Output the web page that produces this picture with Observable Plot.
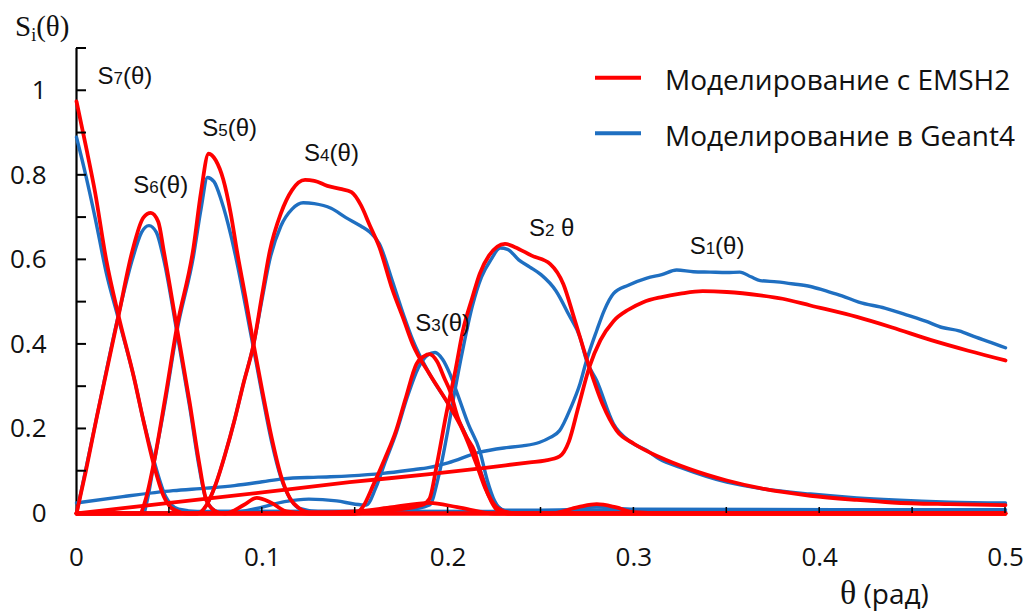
<!DOCTYPE html>
<html>
<head>
<meta charset="utf-8">
<script src="https://cdn.jsdelivr.net/npm/d3@7"></script>
<script src="https://cdn.jsdelivr.net/npm/@observablehq/plot@0.6"></script>
<style>
  html, body { margin: 0; padding: 0; background: #fff; }
  #chart svg { display: block; }
</style>
</head>
<body>
<div id="chart"></div>
<script>
// ---- Data: [theta (rad), S(theta)] ----
// EMSH2 (red)
const emsh2_S7 = [[0,0.975],[0.005,0.87],[0.01,0.76],[0.016,0.6],[0.0226,0.468],[0.031,0.32],[0.036,0.22],[0.0415,0.117],[0.047,0.04],[0.052,0.01],[0.06,0],[0.5,0]];
const emsh2_S6 = [[0,0],[0.005,0.1],[0.011,0.23],[0.0226,0.468],[0.03,0.62],[0.036,0.70],[0.04,0.711],[0.044,0.69],[0.047,0.62],[0.054,0.44],[0.061,0.26],[0.066,0.12],[0.07,0.03],[0.075,0.005],[0.08,0],[0.5,0]];
const emsh2_S5 = [[0,0],[0.034,0],[0.037,0.03],[0.0415,0.117],[0.048,0.28],[0.054,0.44],[0.063,0.63],[0.067,0.76],[0.0711,0.851],[0.075,0.835],[0.079,0.79],[0.083,0.71],[0.0864,0.62],[0.091,0.51],[0.0953,0.40],[0.1,0.29],[0.105,0.18],[0.11,0.09],[0.115,0.035],[0.12,0.012],[0.125,0.003],[0.15,0.005],[0.17,0.015],[0.19,0.025],[0.205,0.015],[0.225,0],[0.5,0]];
const emsh2_S4 = [[0,0],[0.065,0],[0.07,0.02],[0.075,0.07],[0.08,0.14],[0.085,0.22],[0.09,0.31],[0.0953,0.40],[0.1,0.52],[0.104,0.62],[0.11,0.71],[0.116,0.765],[0.123,0.789],[0.128,0.787],[0.135,0.775],[0.142,0.768],[0.148,0.76],[0.153,0.73],[0.158,0.68],[0.163,0.63],[0.17,0.53],[0.176,0.46],[0.181,0.40],[0.19,0.33],[0.2,0.26],[0.208,0.196],[0.215,0.12],[0.22,0.06],[0.226,0.015],[0.232,0.003],[0.24,0],[0.255,0],[0.27,0.015],[0.28,0.022],[0.29,0.015],[0.3,0.003],[0.32,0],[0.5,0]];
const emsh2_S3 = [[0,0],[0.08,0],[0.09,0.02],[0.097,0.037],[0.105,0.025],[0.113,0.005],[0.125,0],[0.15,0],[0.154,0.015],[0.16,0.07],[0.166,0.13],[0.172,0.196],[0.177,0.27],[0.183,0.354],[0.187,0.372],[0.19,0.377],[0.194,0.36],[0.198,0.32],[0.201,0.29],[0.205,0.23],[0.21,0.18],[0.214,0.149],[0.218,0.09],[0.222,0.04],[0.226,0.01],[0.232,0],[0.5,0]];
const emsh2_S2 = [[0,0],[0.15,0],[0.17,0.008],[0.186,0.02],[0.19,0.035],[0.194,0.117],[0.199,0.235],[0.204,0.34],[0.208,0.433],[0.213,0.51],[0.217,0.567],[0.222,0.61],[0.2306,0.638],[0.236,0.63],[0.245,0.61],[0.255,0.59],[0.262,0.543],[0.268,0.46],[0.276,0.346],[0.283,0.26],[0.2907,0.196],[0.3,0.165],[0.314,0.133],[0.33,0.105],[0.35,0.078],[0.37,0.058],[0.395,0.042],[0.42,0.032],[0.439,0.026],[0.47,0.022],[0.5,0.02]];
const emsh2_S1 = [[0,0],[0.05,0.025],[0.1,0.05],[0.147,0.074],[0.19,0.093],[0.22,0.108],[0.244,0.121],[0.252,0.125],[0.26,0.135],[0.265,0.17],[0.27,0.25],[0.276,0.346],[0.282,0.41],[0.289,0.455],[0.297,0.482],[0.305,0.5],[0.315,0.512],[0.325,0.52],[0.337,0.526],[0.35,0.524],[0.368,0.516],[0.38,0.508],[0.395,0.492],[0.42,0.465],[0.439,0.44],[0.46,0.41],[0.48,0.385],[0.5,0.362]];

// Geant4 (blue)
const geant4_S7 = [[0,0.89],[0.005,0.8],[0.01,0.7],[0.016,0.57],[0.0226,0.46],[0.031,0.32],[0.036,0.22],[0.042,0.12],[0.048,0.04],[0.055,0.01],[0.065,0.005],[0.5,0.003]];
const geant4_S6 = [[0,0],[0.011,0.23],[0.0226,0.47],[0.03,0.6],[0.035,0.665],[0.039,0.681],[0.043,0.665],[0.047,0.6],[0.054,0.43],[0.061,0.25],[0.066,0.11],[0.07,0.03],[0.076,0.005],[0.5,0.004]];
const geant4_S5 = [[0,0],[0.036,0],[0.038,0.03],[0.0416,0.117],[0.048,0.27],[0.054,0.43],[0.063,0.61],[0.067,0.72],[0.0705,0.795],[0.074,0.785],[0.078,0.74],[0.083,0.66],[0.087,0.58],[0.091,0.49],[0.0953,0.39],[0.1,0.28],[0.105,0.17],[0.11,0.085],[0.115,0.035],[0.12,0.012],[0.13,0.005],[0.5,0.005]];
const geant4_S4 = [[0,0],[0.065,0],[0.07,0.02],[0.075,0.07],[0.08,0.14],[0.085,0.22],[0.09,0.31],[0.0953,0.40],[0.1,0.51],[0.104,0.6],[0.11,0.68],[0.116,0.72],[0.122,0.735],[0.128,0.733],[0.137,0.722],[0.145,0.7],[0.153,0.68],[0.158,0.665],[0.163,0.638],[0.17,0.55],[0.176,0.47],[0.181,0.41],[0.19,0.33],[0.2,0.26],[0.208,0.2],[0.215,0.13],[0.22,0.07],[0.226,0.02],[0.232,0.006],[0.26,0.008],[0.28,0.015],[0.3,0.01],[0.5,0.009]];
const geant4_S3 = [[0,0],[0.085,0.003],[0.1,0.015],[0.112,0.028],[0.125,0.034],[0.14,0.03],[0.15,0.022],[0.156,0.02],[0.161,0.06],[0.166,0.12],[0.172,0.19],[0.178,0.275],[0.184,0.345],[0.189,0.375],[0.193,0.381],[0.197,0.365],[0.201,0.33],[0.205,0.283],[0.211,0.21],[0.217,0.149],[0.221,0.08],[0.225,0.03],[0.23,0.008],[0.5,0.008]];
const geant4_S2 = [[0,0],[0.15,0.003],[0.18,0.01],[0.19,0.02],[0.195,0.09],[0.2,0.2],[0.203,0.275],[0.208,0.39],[0.213,0.49],[0.218,0.56],[0.223,0.6],[0.228,0.628],[0.232,0.625],[0.238,0.6],[0.244,0.583],[0.25,0.565],[0.258,0.527],[0.265,0.47],[0.271,0.417],[0.2745,0.362],[0.28,0.314],[0.289,0.212],[0.298,0.17],[0.307,0.149],[0.314,0.128],[0.325,0.109],[0.35,0.074],[0.37,0.058],[0.395,0.046],[0.42,0.037],[0.44,0.032],[0.47,0.027],[0.5,0.025]];
const geant4_S1 = [[0,0.025],[0.025,0.04],[0.052,0.054],[0.07,0.06],[0.085,0.066],[0.1,0.075],[0.111,0.082],[0.13,0.086],[0.147,0.089],[0.165,0.095],[0.18,0.103],[0.19,0.109],[0.2,0.12],[0.217,0.145],[0.23,0.155],[0.24,0.16],[0.249,0.168],[0.255,0.18],[0.26,0.196],[0.266,0.25],[0.271,0.307],[0.2745,0.362],[0.28,0.433],[0.284,0.48],[0.289,0.52],[0.297,0.54],[0.307,0.557],[0.315,0.565],[0.323,0.576],[0.332,0.572],[0.341,0.571],[0.35,0.57],[0.357,0.571],[0.363,0.56],[0.368,0.551],[0.377,0.548],[0.386,0.543],[0.395,0.537],[0.403,0.527],[0.412,0.515],[0.421,0.5],[0.435,0.486],[0.448,0.468],[0.457,0.455],[0.466,0.44],[0.475,0.432],[0.484,0.417],[0.492,0.405],[0.5,0.392]];

// Ticks and labels
const xLabelTicks = [0, 0.1, 0.2, 0.3, 0.4, 0.5];
const xMinorTicks = [0.05, 0.1, 0.15, 0.2, 0.25, 0.3, 0.35, 0.4, 0.45, 0.5];
const yLabelTicks = [0, 0.2, 0.4, 0.6, 0.8, 1];
const yMinorTicks = [0.1, 0.2, 0.3, 0.4, 0.5, 0.6, 0.7, 0.8, 0.9, 1.0, 1.1];
const seriesNames = ["Моделирование с EMSH2", "Моделирование в Geant4"];
const seriesColors = ["#ff0000", "#1f6fc1"];
const curveLabels = [
  {text: "S7(θ)", theta: 0.0113, value: 1.017},
  {text: "S6(θ)", theta: 0.0306, value: 0.757},
  {text: "S5(θ)", theta: 0.0677, value: 0.894},
  {text: "S4(θ)", theta: 0.1225, value: 0.835},
  {text: "S3(θ)", theta: 0.1823, value: 0.432},
  {text: "S2 θ", theta: 0.2435, value: 0.657},
  {text: "S1(θ)", theta: 0.330, value: 0.615}
];

// Build table
function rows(model, name, pts) { return pts.map(([t, v]) => ({model, curve: name, theta: t, value: v})); }
const emsh2 = [
  ...rows("EMSH2", "S1", emsh2_S1), ...rows("EMSH2", "S2", emsh2_S2), ...rows("EMSH2", "S3", emsh2_S3),
  ...rows("EMSH2", "S4", emsh2_S4), ...rows("EMSH2", "S5", emsh2_S5), ...rows("EMSH2", "S6", emsh2_S6),
  ...rows("EMSH2", "S7", emsh2_S7)
];
const geant4 = [
  ...rows("Geant4", "S1", geant4_S1), ...rows("Geant4", "S2", geant4_S2), ...rows("Geant4", "S3", geant4_S3),
  ...rows("Geant4", "S4", geant4_S4), ...rows("Geant4", "S5", geant4_S5), ...rows("Geant4", "S6", geant4_S6),
  ...rows("Geant4", "S7", geant4_S7)
];

const fmt = d => String(+d.toFixed(2));

// Layout
const W = 1030, H = 615, mL = 76, mR = 25, mT = 48, mB = 102;
const yTickLen = 10, xTickLen = 6;

const plot = Plot.plot({
  width: W,
  height: H,
  marginLeft: mL,
  marginRight: mR,
  marginTop: mT,
  marginBottom: mB,
  style: {fontFamily: "'Open Sans', sans-serif", background: "#fff", color: "#111"},
  x: {domain: [0, 0.5], axis: null},
  y: {domain: [0, 1.1], axis: null},
  marks: [
    Plot.ruleY([0], {stroke: "#000", strokeWidth: 2}),
    Plot.ruleX([0], {y1: 0, y2: 1.1, stroke: "#000", strokeWidth: 2.2}),
    Plot.line(geant4, {x: "theta", y: "value", z: "curve", stroke: seriesColors[1], strokeWidth: 3.4, curve: "monotone-x"}),
    Plot.line(emsh2, {x: "theta", y: "value", z: "curve", stroke: seriesColors[0], strokeWidth: 3.8, curve: "monotone-x"}),
    Plot.axisX(xLabelTicks, {tickSize: 0, tickPadding: 34, fontSize: 26, tickFormat: fmt, label: null}),
    Plot.axisY(yLabelTicks, {tickSize: 0, tickPadding: 30, fontSize: 26, tickFormat: fmt, label: null}),
    Plot.text(curveLabels, {x: "theta", y: "value", text: "text", textAnchor: "start", lineAnchor: "bottom", fontSize: 24, fontFamily: "'Liberation Sans', Arial, sans-serif", fill: "#111", className: "curve-label"})
  ]
});

document.getElementById("chart").appendChild(plot);

const svg = d3.select(plot);
const xs = plot.scale("x"), ys = plot.scale("y");

// Inward tick marks placed through the plot's own scales
const tickG = svg.append("g").attr("stroke", "#000");
yMinorTicks.forEach(v => {
  const py = ys.apply(v), px = xs.apply(0);
  tickG.append("line").attr("x1", px).attr("x2", px + yTickLen).attr("y1", py).attr("y2", py).attr("stroke-width", 2);
});
xMinorTicks.forEach(v => {
  const px = xs.apply(v), py = ys.apply(0);
  tickG.append("line").attr("x1", px).attr("x2", px).attr("y1", py).attr("y2", py - xTickLen).attr("stroke-width", 1.5);
});

// Subscript digits in curve labels
svg.selectAll(".curve-label text").each(function() {
  const el = d3.select(this);
  const s = el.text();
  const m = /^S(\d)(.*)$/.exec(s);
  if (!m) return;
  el.text(null);
  el.append("tspan").text("S");
  el.append("tspan").attr("font-size", 17).text(m[1]);
  el.append("tspan").text(m[2]);
});

// Axis titles
const yTitle = svg.append("text").attr("x", 15).attr("y", 36).attr("text-anchor", "start")
  .attr("font-family", "'Liberation Serif', 'Times New Roman', serif").attr("font-size", 29).attr("fill", "#111");
yTitle.append("tspan").text("S");
yTitle.append("tspan").attr("font-size", 18).attr("dy", 5).text("i");
yTitle.append("tspan").attr("dy", -5).text("(θ)");

const xTitle = svg.append("text").attr("x", 840).attr("y", 604).attr("text-anchor", "start").attr("fill", "#111");
xTitle.append("tspan").attr("font-family", "'Liberation Serif', 'Times New Roman', serif").attr("font-size", 34).text("θ");
xTitle.append("tspan").attr("font-family", "'Open Sans', sans-serif").attr("font-size", 28).text(" (рад)");

// Legend
const legend = svg.append("g").attr("text-anchor", "start");
seriesNames.forEach((name, i) => {
  const y = 77.7 + i * 55.6;
  legend.append("line").attr("x1", 595).attr("x2", 641).attr("y1", y).attr("y2", y)
    .attr("stroke", seriesColors[i]).attr("stroke-width", 4);
  legend.append("text").attr("x", 665).attr("y", y + 12.5)
    .attr("font-family", "'Open Sans', sans-serif").attr("font-size", 28).attr("fill", "#111").text(name);
});
</script>
</body>
</html>
